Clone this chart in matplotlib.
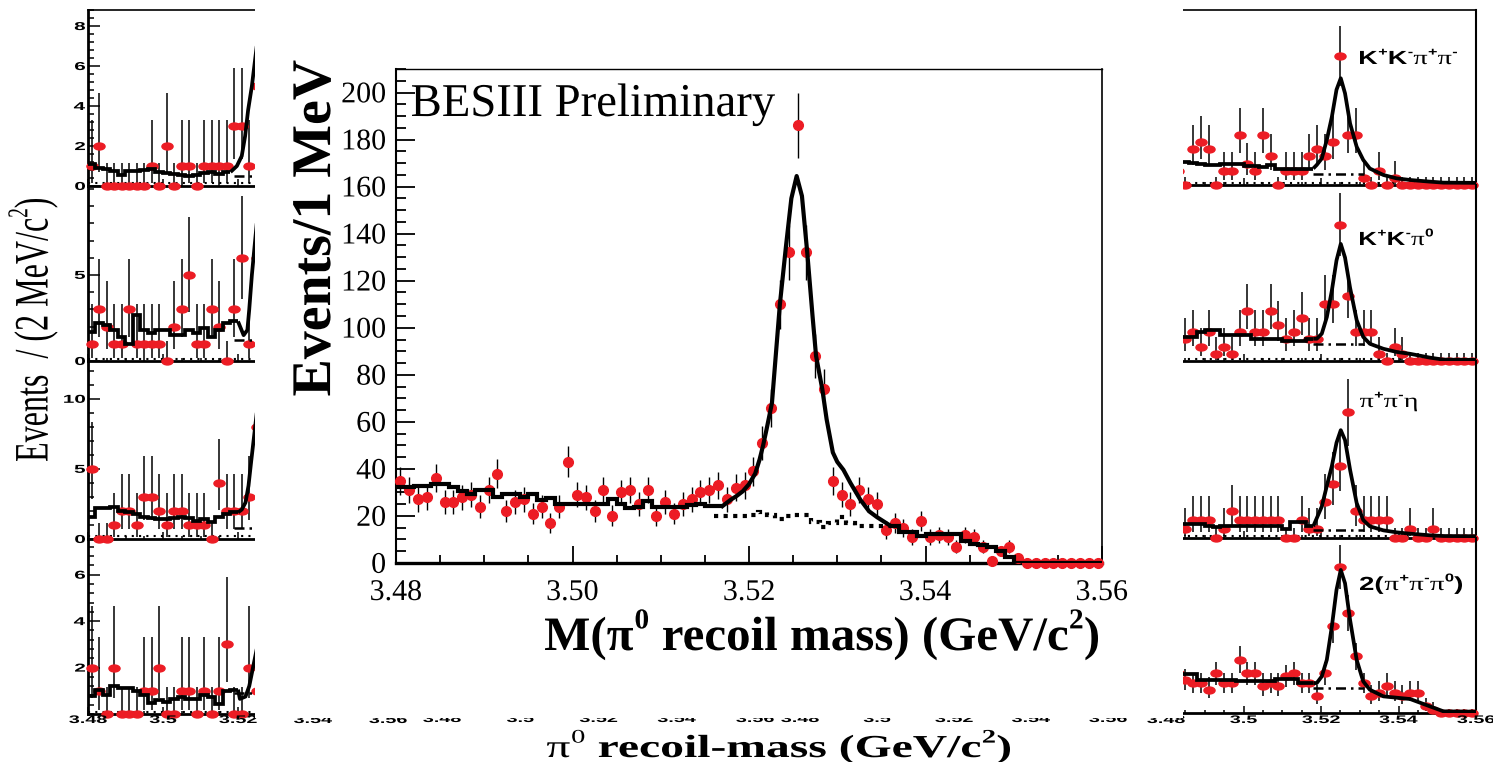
import numpy as np
import matplotlib
matplotlib.use("Agg")
import matplotlib.pyplot as plt
from matplotlib.font_manager import FontProperties
from matplotlib.patches import PathPatch, Rectangle
from matplotlib.path import Path
from matplotlib.textpath import TextPath
from matplotlib.transforms import Affine2D
from matplotlib.ticker import MultipleLocator

W, H = 1493, 762
RED = "#ec1c24"
SERIF = FontProperties(family="Liberation Serif")
SERIF_B = FontProperties(family="Liberation Serif", weight="bold")
SANS_B = FontProperties(family="Liberation Sans", weight="bold")

# ---- central panel: pi0 recoil mass, 1 MeV bins from 3.480 ----
c_counts = [35, 31, 27, 28, 36, 26, 26, 28, 29, 24,
            31, 38, 22, 26, 27, 21, 24, 17, 24, 43,
            29, 28, 22, 31, 20, 30, 31, 25, 31, 20,
            26, 21, 25, 27, 30, 31, 33, 27, 32, 33,
            39, 51, 66, 110, 132, 186, 132, 88, 74, 35,
            29, 25, 31, 27, 25, 14, 17, 15, 11, 18,
            11, 12, 11, 7, 12, 11, 7, 1, 5, 7,
            2, 0, 0, 0, 0, 0, 0, 0, 0, 0]
# fit, histogram part 3.480-3.517
c_fit_left = [32.2, 32.5, 32.9, 32.9, 33.6, 33.6, 32.2, 30.8, 29.4, 31.2,
              31.2, 28.0, 29.4, 29.4, 28.0, 29.4, 26.6, 27.6, 25.2, 25.2,
              25.2, 25.2, 25.2, 25.2, 27.0, 25.2, 23.4, 23.7, 26.5, 23.7,
              23.7, 23.7, 23.7, 24.5, 25.2, 24.2, 24.2]
# fit, smooth peak part
c_peak_x = [3.5170, 3.5179, 3.5186, 3.5193, 3.5200, 3.5207, 3.5212, 3.5216,
            3.5220, 3.5226, 3.5235, 3.5242, 3.5248, 3.5254, 3.5260, 3.5266,
            3.5272, 3.5276, 3.5283, 3.5288, 3.5295, 3.5300, 3.5307, 3.5315,
            3.5326, 3.5336, 3.5345, 3.5360]
c_peak_y = [24.2, 26.8, 28.5, 30.5, 33.5, 38.0, 44.0, 50.0, 57.0, 68.0, 110.0,
            135.0, 155.0, 164.5, 156.0, 132.0, 105.0, 88.0, 74.0, 61.0, 47.0,
            43.0, 39.6, 34.0, 27.0, 22.0, 19.5, 15.9]
# fit, histogram part 3.536-3.560
c_fit_right = [15.9, 13.1, 13.1, 11.6, 12.3, 12.3, 12.3, 12.3, 9.5, 8.1,
               7.5, 6.8, 5.0, 2.5, 0, 0, 0, 0, 0, 0, 0, 0, 0, 0]
# background under the peak, 3.516-3.536
c_bkg = [20, 20, 20, 20, 20.5, 21.5, 20.5, 18.7, 20, 20.2,
         20.5, 17.4, 15.3, 17, 19.6, 17, 15.9, 15.9, 15.9, 15.9]

# ---- left column (2 MeV bins from 3.480, only left part visible) ----
left_ymax = [8.83, 10.17, 12.7, 7.54]
left_counts = [
    [1, 2, 0, 0, 0, 0, 0, 0, 1, 0, 2, 0, 1, 1, 0, 1, 1, 1, 1, 3, 3, 1, 5],
    [1, 3, 2, 1, 1, 3, 1, 1, 1, 1, 0, 2, 3, 5, 1, 1, 3, 2, 0, 3, 6, 1, 6],
    [5, 0, 0, 1, 2, 2, 1, 3, 3, 2, 1, 2, 2, 1, 1, 1, 0, 4, 2, 2, 2, 3, 8],
    [2, 1, 0, 2, 0, 0, 0, 1, 1, 2, 0, 0, 1, 1, 0, 1, 0, 1, 3, 0, 0, 2, 1],
]
left_steps = [
    [1.1, 0.9, 0.85, 0.75, 0.55, 0.75, 0.75, 0.8, 0.85, 0.7, 0.65, 0.6, 0.55,
     0.5, 0.55, 0.65, 0.7, 0.6, 0.7],
    [1.7, 2.2, 2.1, 1.8, 1.4, 1.0, 2.7, 1.8, 1.65, 1.8, 1.8, 1.5, 1.5, 1.8,
     1.6, 1.9, 1.4, 1.8, 2.2, 2.3],
    [1.6, 2.2, 2.2, 2.3, 2.0, 1.9, 1.8, 1.6, 1.5, 1.4, 1.4, 1.5, 1.6, 1.5,
     1.3, 1.4, 1.2, 1.6, 1.8, 1.9],
    [0.76, 1.04, 0.83, 1.21, 1.1, 1.1, 1.0, 0.83, 0.47, 0.6, 0.5, 0.65, 0.75,
     0.65, 0.65, 0.8, 0.75, 0.45, 1.0, 1.05],
]
left_rise_x = [
    [3.5180, 3.5197, 3.5210, 3.5219, 3.5227, 3.5237, 3.5250],
    [3.5200, 3.5215, 3.5225, 3.5230, 3.5237, 3.5250],
    [3.5200, 3.5210, 3.5220, 3.5228, 3.5235, 3.5250],
    [3.5200, 3.5205, 3.5220, 3.5230, 3.5240, 3.5250],
]
left_rise_y = [
    [0.7, 1.0, 1.5, 2.5, 3.8, 5.0, 7.0],
    [2.3, 1.5, 1.8, 3.0, 5.0, 8.0],
    [1.9, 2.1, 2.6, 3.8, 5.5, 9.0],
    [1.05, 0.65, 0.75, 1.2, 2.0, 2.8],
]
left_bkg = [0.5, 1.2, 0.8, 0.9]
left_dots = [0.15, 0.1, 0.2, 0.1]
left_yticks = [[0, 2, 4, 6, 8], [0, 5], [0, 5, 10], [2, 4, 6]]
left_minor = [0.4, 1, 1, 0.4]

# ---- right column (2 MeV bins, from bin centred at 3.483) ----
right_ymax = [24.5, 24.5, 19.7, 52.6]
right_counts = [
    [2, 0, 5, 6, 5, 0, 2, 2, 7, 3, 2, 7, 4, 0, 2, 2, 2, 4, 5, 4,
     6, 18, 7, 7, 1, 0, 2, 0, 1, 0, 0, 0, 0, 0, 0, 0, 0, 0, 0],
    [3, 3, 4, 2, 4, 1, 2, 1, 4, 7, 4, 4, 7, 5, 3, 4, 6, 3, 3, 8,
     8, 19, 9, 4, 4, 4, 1, 0, 2, 1, 0, 0, 0, 0, 0, 0, 0, 0, 0],
    [1, 1, 2, 2, 2, 0, 1, 3, 2, 2, 2, 2, 2, 2, 0, 0, 2, 1, 1, 4,
     6, 8, 14, 3, 2, 2, 2, 2, 0, 0, 1, 0, 0, 1, 0, 0, 0, 0, 0],
    [12, 10, 9, 9, 7, 12, 9, 9, 16, 12, 12, 8, 9, 8, 11, 12, 9, 9, 5, 12,
     26, 44, 30, 17, 9, 5, 6, 8, 6, 5, 6, 6, 2, 1, 0, 0, 0, 0, 0],
]
right_steps = [
    [3.2, 3.2, 3.1, 3.0, 2.8, 2.8, 2.9, 2.9, 2.9, 2.6, 2.6, 2.5, 2.8, 2.3, 2.2, 2.2, 2.2, 2.3],
    [3.35, 3.35, 3.35, 4.0, 4.3, 4.3, 3.6, 3.6, 3.6, 3.6, 3.1, 3.1, 3.1, 3.1, 2.8, 2.8, 2.8, 3.1],
    [1.6, 1.6, 1.6, 1.6, 1.37, 1.22, 1.37, 1.37, 1.37, 1.37, 1.3, 1.3, 1.3, 1.3, 1.0, 1.74, 1.74, 1.3],
    [11.8, 11.8, 11.8, 9.8, 9.8, 9.8, 9.8, 9.8, 9.5, 9.5, 9.5, 9.5, 9.5, 10.2, 10.2, 10.2, 9.0, 9.0],
]
right_fit_x = [3.5180, 3.5189, 3.5202, 3.5215, 3.5228, 3.5240, 3.5251, 3.5262,
               3.5275, 3.5292, 3.5309, 3.5326, 3.5361, 3.5395, 3.5430, 3.5481,
               3.5516, 3.5600]
right_fit_y = [
    [2.3, 2.8, 3.7, 6.3, 9.5, 13.3, 14.9, 12.8, 8.6, 5.35, 3.5, 2.3, 1.4, 0.93, 0.7, 0.47, 0.33, 0.3],
    [3.1, 3.1, 3.8, 6.1, 9.8, 14.0, 16.3, 14.4, 10.2, 5.7, 3.35, 2.4, 1.7, 1.26, 1.0, 0.47, 0.19, 0.15],
    [1.3, 2.2, 3.5, 5.8, 8.0, 10.6, 12.0, 10.9, 7.6, 3.9, 2.0, 1.3, 0.85, 0.63, 0.48, 0.3, 0.22, 0.2],
    [9.0, 9.0, 11, 16, 26, 37, 43, 39, 28, 16, 9.5, 7.0, 5.0, 4.6, 4.2, 2.0, 0.5, 0.4],
]
right_bkg = [1.6, 2.4, 0.85, 7.5]
right_dots = [0.33, 0.33, 0.19, None]

POIS_LO = [0, 0.17, 0.71, 1.37, 2.09, 2.84, 3.62, 4.42, 5.23]
POIS_HI = [1.15, 3.30, 4.64, 5.92, 7.16, 8.38, 9.58, 10.77, 11.95]
mass_ticks = [3.48, 3.50, 3.52, 3.54, 3.56]
side_tick_text = ["3.48", "3.5", "3.52", "3.54", "3.56"]

fig = plt.figure(figsize=(W / 100, H / 100), dpi=100)


def px_rect(x0, x1, y0, y1):
    return [x0 / W, (H - y1) / H, (x1 - x0) / W, (y1 - y0) / H]


def put_text(parts, x, y, size, width=None, sx=1.0, ha="left", va="baseline",
             rot=0, z=6):
    # parts: (text, relative size, rise in em, font)
    pieces, pen = [], 0.0
    for s, rel, rise, fp in parts:
        tp = TextPath((pen, rise * size), s, size=size * rel, prop=fp)
        pieces.append(tp)
        pen = tp.get_extents().x1 + 0.03 * size
    path = Path.make_compound_path(*pieces)
    bb = path.get_extents()
    if width is not None:
        sx = width / bb.width
    dx = {"left": bb.x0, "center": (bb.x0 + bb.x1) / 2, "right": bb.x1}[ha]
    dy = {"baseline": 0.0, "center": (bb.y0 + bb.y1) / 2}[va]
    tr = Affine2D().translate(-dx, -dy).scale(sx, 1).rotate_deg(rot).translate(x, H - y)
    fig.add_artist(PathPatch(path, transform=tr, facecolor="black",
                             edgecolor="none", zorder=z))


def to_px(ax, x, y):
    px, py = ax.transData.transform((x, y))
    return px, H - py


def pois_err(counts):
    lo = [k - POIS_LO[k] if k < len(POIS_LO) else np.sqrt(k) for k in counts]
    hi = [POIS_HI[k] - k if k < len(POIS_HI) else np.sqrt(k) for k in counts]
    return [lo, hi]


ell = Path.unit_circle()
ELLIPSE = Path(ell.vertices * [1.6, 1.0], ell.codes)


def side_panel(x0, x1, y0, y1, ymax, first_bin, counts, step_start, steps,
               cx, cy, bkg_x, bkg_y, dot_y, top):
    ax = fig.add_axes(px_rect(x0, x1, y0, y1), zorder=1)
    ax.patch.set_alpha(0)
    ax.set_xlim(3.48, 3.56)
    ax.set_ylim(0, ymax)
    centers = 3.481 + 0.002 * (first_bin + np.arange(len(counts)))
    ax.errorbar(centers, counts, yerr=pois_err(counts), fmt="none",
                ecolor="black", elinewidth=1.1, capsize=0, zorder=2)
    ax.plot(centers, counts, ls="none", marker=ELLIPSE, ms=8, mfc=RED,
            mec=RED, zorder=3, clip_on=False)
    edges = step_start + 0.002 * np.arange(len(steps) + 1)
    ax.stairs(steps, edges, baseline=None, color="black", lw=2.7, zorder=4)
    ax.plot(cx, cy, color="black", lw=2.7, zorder=4, solid_capstyle="butt")
    ax.plot(bkg_x, [bkg_y, bkg_y], color="black", lw=1.8,
            ls=(0, (4, 2, 1, 2)), zorder=4)
    if dot_y is not None:
        ax.axhline(dot_y, color="black", lw=1.5, ls=(0, (1, 2.5)), zorder=1)
    for side in ["left", "right", "top", "bottom"]:
        ax.spines[side].set_linewidth(1.2)
    ax.spines["bottom"].set_linewidth(2.0)
    ax.spines["left"].set_linewidth(2.0)
    ax.spines["top"].set_visible(top)
    ax.xaxis.set_major_locator(MultipleLocator(0.02))
    ax.xaxis.set_minor_locator(MultipleLocator(0.005))
    ax.tick_params(axis="both", which="both", direction="in", labelleft=False,
                   labelbottom=False, top=False, right=False, width=1.1)
    ax.tick_params(axis="x", which="major", length=5)
    ax.tick_params(axis="x", which="minor", length=2.5)
    ax.tick_params(axis="y", which="major", length=8.5)
    ax.tick_params(axis="y", which="minor", length=4)
    return ax


left_rows = [(9.5, 186), (186, 361), (361, 539), (539, 714)]
right_rows = [(9.5, 185), (185, 361), (361, 538), (538, 713)]
label_base = 723

for i in range(4):
    ax = side_panel(88, 388, left_rows[i][0], left_rows[i][1], left_ymax[i], 0,
                    left_counts[i], 3.480, left_steps[i], left_rise_x[i],
                    left_rise_y[i], [3.519, 3.525], left_bkg[i], left_dots[i],
                    i == 0)
    ax.set_yticks(left_yticks[i])
    ax.yaxis.set_minor_locator(MultipleLocator(left_minor[i]))
    for v in left_yticks[i]:
        px, py = to_px(ax, 3.48, v)
        put_text([(str(v), 1, 0, SANS_B)], px - 3, py, 11.5, sx=1.8,
                 ha="right", va="center", z=2)
    if i == 3:
        for v, s in zip(mass_ticks, side_tick_text):
            px, py = to_px(ax, v, 0)
            put_text([(s, 1, 0, SANS_B)], px, label_base, 11, sx=1.8,
                     ha="center", z=2)

for i in range(4):
    ax = side_panel(1166, 1476, right_rows[i][0], right_rows[i][1], right_ymax[i],
                    1, right_counts[i], 3.482, right_steps[i], right_fit_x,
                    right_fit_y[i], [3.518, 3.531], right_bkg[i], right_dots[i],
                    i == 0)
    ax.spines["right"].set_linewidth(1.5)
    ax.set_yticks([])
    if i == 3:
        for v, s in zip(mass_ticks, side_tick_text):
            px, py = to_px(ax, v, 0)
            put_text([(s, 1, 0, SANS_B)], px, label_base, 11, sx=1.8,
                     ha="center", z=2)

# hidden middle columns: only the lower half of their tick labels shows
for x0, x1 in [(442, 755), (800, 1108)]:
    axh = fig.add_axes(px_rect(x0, x1, 539, 714), zorder=0)
    axh.set_xlim(3.48, 3.56)
    axh.axis("off")
    for v, s in zip(mass_ticks, side_tick_text):
        px, py = to_px(axh, v, 0)
        put_text([(s, 1, 0, SANS_B)], px, label_base - 1, 11, sx=1.8,
                 ha="center", z=2)

# labels of the side figure
put_text([("Events  / (2 MeV/c", 1, 0, SERIF), ("2", 0.6, 0.42, SERIF),
          (")", 1, 0, SERIF)], 33, 330, 48, width=262, ha="center",
         va="center", rot=90, z=2)
sup = 0.45
put_text([("K", 1, 0, SANS_B), ("+", 0.6, sup, SANS_B), ("K", 1, 0, SANS_B),
          ("-", 0.6, sup, SANS_B), ("π", 1.05, 0, SERIF), ("+", 0.6, sup, SANS_B),
          ("π", 1.05, 0, SERIF), ("-", 0.6, sup, SANS_B)], 1360, 64, 19, width=97, z=2)
put_text([("K", 1, 0, SANS_B), ("+", 0.6, sup, SANS_B), ("K", 1, 0, SANS_B),
          ("-", 0.6, sup, SANS_B), ("π", 1.05, 0, SERIF), ("0", 0.6, sup, SANS_B)],
         1360, 245, 19, width=73, z=2)
put_text([("π", 1.05, 0, SERIF), ("+", 0.6, sup, SANS_B), ("π", 1.05, 0, SERIF),
          ("-", 0.6, sup, SANS_B), ("η", 1.05, 0, SERIF)], 1360, 407, 19, width=57, z=2)
put_text([("2(", 1, 0, SANS_B), ("π", 1.05, 0, SERIF), ("+", 0.6, sup, SANS_B),
          ("π", 1.05, 0, SERIF), ("-", 0.6, sup, SANS_B), ("π", 1.05, 0, SERIF),
          ("0", 0.6, sup, SANS_B), (")", 1, 0, SANS_B)], 1360, 590, 19, width=102, z=2)

# white block of the pasted central plot
fig.add_artist(Rectangle((255, H - 718), 1183 - 255, 718, transform=None,
                         facecolor="white", edgecolor="none", zorder=3))

# ---- central plot ----
axc = fig.add_axes(px_rect(396, 1102, 69, 563), zorder=4)
axc.set_xlim(3.48, 3.56)
axc.set_ylim(0, 210)
centers = 3.4805 + 0.001 * np.arange(len(c_counts))
axc.errorbar(centers, c_counts, yerr=np.sqrt(c_counts), fmt="none",
             ecolor="black", elinewidth=1.0, capsize=0, zorder=2)
axc.plot(centers, c_counts, ls="none", marker="o", ms=7, mfc=RED, mec=RED,
         zorder=3, clip_on=False)
axc.stairs(c_fit_left, 3.480 + 0.001 * np.arange(len(c_fit_left) + 1),
           baseline=None, color="black", lw=3.0, zorder=4)
axc.plot(c_peak_x, c_peak_y, color="black", lw=3.0, zorder=4)
axc.stairs(c_fit_right, 3.536 + 0.001 * np.arange(len(c_fit_right) + 1),
           baseline=None, color="black", lw=3.0, zorder=4)
axc.stairs(c_bkg, 3.516 + 0.001 * np.arange(len(c_bkg) + 1), baseline=None,
           color="black", lw=3.0, ls=(0, (1, 1.3)), zorder=4)
axc.xaxis.set_major_locator(MultipleLocator(0.02))
axc.xaxis.set_minor_locator(MultipleLocator(0.005))
axc.yaxis.set_major_locator(MultipleLocator(20))
axc.yaxis.set_minor_locator(MultipleLocator(5))
axc.tick_params(axis="both", which="both", direction="in", top=False,
                right=False, labelleft=False, labelbottom=False, width=1.3)
axc.tick_params(axis="y", which="major", length=14)
axc.tick_params(axis="y", which="minor", length=7)
axc.tick_params(axis="x", which="major", length=12)
axc.tick_params(axis="x", which="minor", length=6)
axc.spines["left"].set_linewidth(1.5)
axc.spines["bottom"].set_linewidth(2.4)
axc.spines["top"].set_linewidth(1.0)
axc.spines["right"].set_linewidth(1.2)

for v in range(0, 201, 20):
    px, py = to_px(axc, 3.48, v)
    put_text([(str(v), 1, 0, SERIF)], px - 11, py, 30, ha="right", va="center")
for v in mass_ticks:
    px, py = to_px(axc, v, 0)
    put_text([("%.2f" % v, 1, 0, SERIF)], px, 600, 30, ha="center")

put_text([("BESIII Preliminary", 1, 0, SERIF)], 412, 116, 47, width=363)
put_text([("Events/1 MeV", 1, 0, SERIF_B)], 312, 228, 56, width=335,
         ha="center", va="center", rot=90)
put_text([("M(π", 1, 0, SERIF_B), ("0", 0.6, 0.45, SERIF_B),
          (" recoil mass) (GeV/c", 1, 0, SERIF_B), ("2", 0.6, 0.45, SERIF_B),
          (")", 1, 0, SERIF_B)], 545, 650, 48, width=553)
put_text([("π", 1, 0, SERIF), ("0", 0.6, 0.45, SERIF),
          (" recoil-mass (GeV/c", 1, 0, SERIF_B), ("2", 0.6, 0.45, SERIF_B),
          (")", 1, 0, SERIF_B)], 547, 757, 32, width=463)

fig.savefig("out.png", dpi=100)
